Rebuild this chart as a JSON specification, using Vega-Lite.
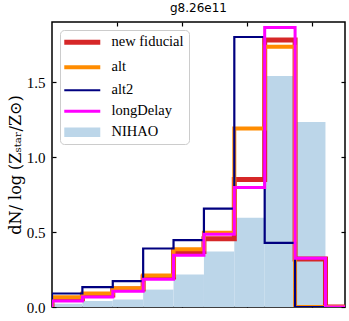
{
  "$schema": "https://vega.github.io/schema/vega-lite/v6.json",
  "width": 293,
  "height": 285,
  "autosize": "none",
  "padding": {"left": 52, "top": 22, "right": 4, "bottom": 14},
  "title": {"text": "g8.26e11", "font": "DejaVu Sans", "fontSize": 12, "fontWeight": "normal", "color": "black", "offset": 6},
  "config": {
    "view": {"stroke": "black", "strokeWidth": 1.5},
    "axis": {"grid": false, "domain": false, "tickColor": "black", "tickWidth": 1.2, "tickSize": -4, "labelFont": "Liberation Serif", "labelFontSize": 15, "labelColor": "black", "titleFont": "DejaVu Serif", "titleFontSize": 16, "titleFontWeight": "normal", "titleColor": "black"}
  },
  "datasets": {
    "nihao": [
      {"s": "NIHAO", "x0": -2.0, "x1": -1.7667, "y": 0.022},
      {"s": "NIHAO", "x0": -1.7667, "x1": -1.5333, "y": 0.04},
      {"s": "NIHAO", "x0": -1.5333, "x1": -1.3, "y": 0.05},
      {"s": "NIHAO", "x0": -1.3, "x1": -1.0667, "y": 0.116},
      {"s": "NIHAO", "x0": -1.0667, "x1": -0.8333, "y": 0.216},
      {"s": "NIHAO", "x0": -0.8333, "x1": -0.6, "y": 0.37},
      {"s": "NIHAO", "x0": -0.6, "x1": -0.3667, "y": 0.595},
      {"s": "NIHAO", "x0": -0.3667, "x1": -0.1333, "y": 1.54},
      {"s": "NIHAO", "x0": -0.1333, "x1": 0.1, "y": 1.233}
    ],
    "lines": [
      {"s": "new fiducial", "i": 0, "x": -2.0, "y": 0},
      {"s": "new fiducial", "i": 1, "x": -2.0, "y": 0.055},
      {"s": "new fiducial", "i": 2, "x": -1.7667, "y": 0.08},
      {"s": "new fiducial", "i": 3, "x": -1.5333, "y": 0.12},
      {"s": "new fiducial", "i": 4, "x": -1.3, "y": 0.2},
      {"s": "new fiducial", "i": 5, "x": -1.0667, "y": 0.37},
      {"s": "new fiducial", "i": 6, "x": -0.8333, "y": 0.455},
      {"s": "new fiducial", "i": 7, "x": -0.6, "y": 0.85},
      {"s": "new fiducial", "i": 8, "x": -0.3667, "y": 1.78},
      {"s": "new fiducial", "i": 9, "x": -0.1333, "y": 0.32},
      {"s": "new fiducial", "i": 10, "x": 0.1, "y": 0},
      {"s": "new fiducial", "i": 11, "x": 0.3333, "y": 0},
      {"s": "alt", "i": 0, "x": -2.0, "y": 0},
      {"s": "alt", "i": 1, "x": -2.0, "y": 0.065},
      {"s": "alt", "i": 2, "x": -1.7667, "y": 0.09},
      {"s": "alt", "i": 3, "x": -1.5333, "y": 0.125},
      {"s": "alt", "i": 4, "x": -1.3, "y": 0.21},
      {"s": "alt", "i": 5, "x": -1.0667, "y": 0.385},
      {"s": "alt", "i": 6, "x": -0.8333, "y": 0.495},
      {"s": "alt", "i": 7, "x": -0.6, "y": 1.19},
      {"s": "alt", "i": 8, "x": -0.3667, "y": 1.735},
      {"s": "alt", "i": 9, "x": -0.1333, "y": 0},
      {"s": "alt", "i": 10, "x": 0.1, "y": 0},
      {"s": "alt", "i": 11, "x": 0.3333, "y": 0},
      {"s": "alt2", "i": 0, "x": -2.0, "y": 0},
      {"s": "alt2", "i": 1, "x": -2.0, "y": 0.09},
      {"s": "alt2", "i": 2, "x": -1.7667, "y": 0.133},
      {"s": "alt2", "i": 3, "x": -1.5333, "y": 0.173},
      {"s": "alt2", "i": 4, "x": -1.3, "y": 0.39},
      {"s": "alt2", "i": 5, "x": -1.0667, "y": 0.446},
      {"s": "alt2", "i": 6, "x": -0.8333, "y": 0.656},
      {"s": "alt2", "i": 7, "x": -0.6, "y": 1.8},
      {"s": "alt2", "i": 8, "x": -0.3667, "y": 0.427},
      {"s": "alt2", "i": 9, "x": -0.1333, "y": 0},
      {"s": "alt2", "i": 10, "x": 0.1, "y": 0},
      {"s": "alt2", "i": 11, "x": 0.3333, "y": 0},
      {"s": "longDelay", "i": 0, "x": -2.0, "y": 0},
      {"s": "longDelay", "i": 1, "x": -2.0, "y": 0.04},
      {"s": "longDelay", "i": 2, "x": -1.7667, "y": 0.067},
      {"s": "longDelay", "i": 3, "x": -1.5333, "y": 0.105},
      {"s": "longDelay", "i": 4, "x": -1.3, "y": 0.185},
      {"s": "longDelay", "i": 5, "x": -1.0667, "y": 0.345},
      {"s": "longDelay", "i": 6, "x": -0.8333, "y": 0.485},
      {"s": "longDelay", "i": 7, "x": -0.6, "y": 0.797},
      {"s": "longDelay", "i": 8, "x": -0.3667, "y": 1.863},
      {"s": "longDelay", "i": 9, "x": -0.1333, "y": 0.325},
      {"s": "longDelay", "i": 10, "x": 0.1, "y": 0},
      {"s": "longDelay", "i": 11, "x": 0.3333, "y": 0}
    ]
  },
  "layer": [
    {
      "data": {"name": "nihao"},
      "mark": {"type": "bar", "clip": true},
      "encoding": {
        "x": {"field": "x0", "type": "quantitative", "scale": {"domain": [-2.0, 0.25], "nice": false, "zero": false}, "axis": {"orient": "bottom", "values": [-1.5, -1.0, -0.5, 0.0], "labels": false, "title": null}},
        "x2": {"field": "x1"},
        "y": {"field": "y", "type": "quantitative", "scale": {"domain": [0, 1.9], "nice": false}, "axis": {"orient": "left", "values": [0, 0.5, 1.0, 1.5], "format": ".1f", "labelPadding": 11, "title": "dN/ log (Zₛₜₐᵣ/Z⊙)", "titlePadding": 3}},
        "y2": {"datum": 0},
        "color": {
          "field": "s", "type": "nominal",
          "scale": {"domain": ["new fiducial", "alt", "alt2", "longDelay", "NIHAO"], "range": ["#d62728", "#ff8c00", "#000080", "#ff00ff", "#bcd6e9"]},
          "legend": {
            "title": null, "orient": "top-left", "offset": 8, "padding": 5,
            "strokeColor": "#cccccc", "cornerRadius": 4, "fillColor": "rgba(255,255,255,0.8)",
            "symbolType": "M-1.33,0H4.67", "symbolSize": 144,
            "labelFont": "Liberation Serif", "labelFontSize": 14.5, "labelColor": "black",
            "labelOffset": 32, "rowPadding": 6,
            "encode": {
              "symbols": {
                "update": {
                  "shape": {"signal": "datum.value === 'NIHAO' ? 'M-1.33,-0.8H4.67V0.8H-1.33Z' : 'M-1.33,0H4.67'"},
                  "stroke": {"scale": "color", "field": "value"},
                  "fill": {"signal": "datum.value === 'NIHAO' ? '#bcd6e9' : 'transparent'"},
                  "opacity": {"value": 1},
                  "strokeWidth": {"signal": "datum.value === 'new fiducial' ? 5 : datum.value === 'alt' ? 4 : datum.value === 'alt2' ? 2 : datum.value === 'longDelay' ? 3 : 0"}
                }
              }
            }
          }
        }
      }
    },
    {
      "data": {"name": "lines"},
      "transform": [{"filter": "datum.s === 'new fiducial'"}],
      "mark": {"type": "line", "interpolate": "step-after", "clip": true, "strokeWidth": 5},
      "encoding": {
        "x": {"field": "x", "type": "quantitative", "axis": {"orient": "top", "values": [-1.5, -1.0, -0.5, 0.0], "labels": false, "title": null}},
        "y": {"field": "y", "type": "quantitative", "axis": {"orient": "right", "values": [0, 0.5, 1.0, 1.5], "labels": false, "title": null}},
        "color": {"field": "s", "type": "nominal"},
        "order": {"field": "i", "type": "quantitative"}
      }
    },
    {
      "data": {"name": "lines"},
      "transform": [{"filter": "datum.s === 'alt'"}],
      "mark": {"type": "line", "interpolate": "step-after", "clip": true, "strokeWidth": 4},
      "encoding": {
        "x": {"field": "x", "type": "quantitative", "axis": null},
        "y": {"field": "y", "type": "quantitative", "axis": null},
        "color": {"field": "s", "type": "nominal"},
        "order": {"field": "i", "type": "quantitative"}
      }
    },
    {
      "data": {"name": "lines"},
      "transform": [{"filter": "datum.s === 'alt2'"}],
      "mark": {"type": "line", "interpolate": "step-after", "clip": true, "strokeWidth": 2.2},
      "encoding": {
        "x": {"field": "x", "type": "quantitative", "axis": null},
        "y": {"field": "y", "type": "quantitative", "axis": null},
        "color": {"field": "s", "type": "nominal"},
        "order": {"field": "i", "type": "quantitative"}
      }
    },
    {
      "data": {"name": "lines"},
      "transform": [{"filter": "datum.s === 'longDelay'"}],
      "mark": {"type": "line", "interpolate": "step-after", "clip": true, "strokeWidth": 3},
      "encoding": {
        "x": {"field": "x", "type": "quantitative", "axis": null},
        "y": {"field": "y", "type": "quantitative", "axis": null},
        "color": {"field": "s", "type": "nominal"},
        "order": {"field": "i", "type": "quantitative"}
      }
    }
  ],
  "resolve": {"axis": {"x": "independent", "y": "independent"}}
}
